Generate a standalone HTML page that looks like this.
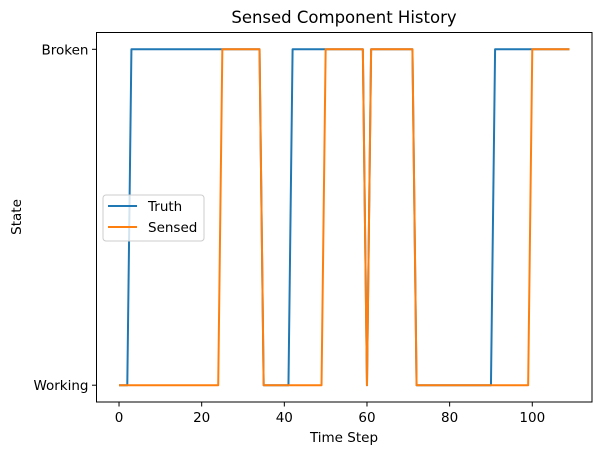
<!DOCTYPE html>
<html><head><meta charset="utf-8"><style>
html,body{margin:0;padding:0;background:#fff;}
svg{display:block;font-family:"DejaVu Sans","Liberation Sans",sans-serif;}
</style></head><body>
<svg id="chart" width="602" height="455" viewBox="0 0 602 455">
<text x="344" y="23" font-size="16.5" text-anchor="middle" fill="#000">Sensed Component History</text>
<g id="plot"></g>
<rect x="96.5" y="32.5" width="495.5" height="369.5" fill="none" stroke="#000" stroke-width="1"/>
<g id="xticks"></g>
<g id="yticks"></g>
<text x="344" y="442" font-size="13.5" text-anchor="middle">Time Step</text>
<text transform="translate(21,217) rotate(-90)" font-size="13.5" text-anchor="middle">State</text>
<g>
<rect x="103" y="195" width="101" height="46" rx="3" fill="#fff" fill-opacity="0.8" stroke="#ccc" stroke-width="1"/>
<line x1="108" y1="206" x2="137" y2="206" stroke="#1f77b4" stroke-width="2"/>
<text x="148" y="211" font-size="13.5">Truth</text>
<line x1="108" y1="227" x2="137" y2="227" stroke="#ff7f0e" stroke-width="2"/>
<text x="148" y="232" font-size="13.5">Sensed</text>
</g>
</svg>
<script>
const stateLabels = ["Working", "Broken"];
const xTickValues = [0, 20, 40, 60, 80, 100];
// run-length encoded states: [startStep, endStep, state] (0=Working, 1=Broken)
const truthRuns = [[0,2,0],[3,34,1],[35,41,0],[42,59,1],[60,60,0],[61,71,1],[72,90,0],[91,109,1]];
const sensedRuns = [[0,24,0],[25,34,1],[35,49,0],[50,59,1],[60,60,0],[61,71,1],[72,99,0],[100,109,1]];

function expand(runs){const a=[];runs.forEach(r=>{for(let t=r[0];t<=r[1];t++)a.push(r[2]);});return a;}
const truth = expand(truthRuns);
const sensed = expand(sensedRuns);

const L=96.5,R=592,T=32.5,B=402;
const n=Math.max(truth.length,sensed.length)-1;
const xm=n*0.05, ym=0.05;
const sx=v=>L+(v+xm)/(n+2*xm)*(R-L);
const sy=v=>B-(v+ym)/(1+2*ym)*(B-T);
const NS="http://www.w3.org/2000/svg";
const plot=document.getElementById('plot');
function series(data,color,name){
  const p=document.createElementNS(NS,'polyline');
  p.setAttribute('points',data.map((v,i)=>sx(i)+','+sy(v)).join(' '));
  p.setAttribute('fill','none');p.setAttribute('stroke',color);p.setAttribute('stroke-width','2');
  p.setAttribute('stroke-linejoin','round');
  
  
  plot.appendChild(p);
}
series(truth,'#1f77b4','truth-line');
series(sensed,'#ff7f0e','sensed-line');
const xt=document.getElementById('xticks');
xTickValues.forEach(v=>{
  const x=sx(v);
  const l=document.createElementNS(NS,'line');
  l.setAttribute('x1',x);l.setAttribute('x2',x);l.setAttribute('y1',B);l.setAttribute('y2',B+4.5);l.setAttribute('stroke','#000');
  
  
  xt.appendChild(l);
  const t=document.createElementNS(NS,'text');
  t.setAttribute('x',x);t.setAttribute('y',B+20);t.setAttribute('font-size','13.5');t.setAttribute('text-anchor','middle');
  t.textContent=v;
  
  
  xt.appendChild(t);
});
const yt=document.getElementById('yticks');
stateLabels.forEach((s,i)=>{
  const y=sy(i);
  const l=document.createElementNS(NS,'line');
  l.setAttribute('x1',L-4.5);l.setAttribute('x2',L);l.setAttribute('y1',y);l.setAttribute('y2',y);l.setAttribute('stroke','#000');
  
  
  yt.appendChild(l);
  const t=document.createElementNS(NS,'text');
  t.setAttribute('x',L-8);t.setAttribute('y',y+5);t.setAttribute('font-size','13.5');t.setAttribute('text-anchor','end');
  t.textContent=s;
  
  
  yt.appendChild(t);
});
</script>
</body></html>
